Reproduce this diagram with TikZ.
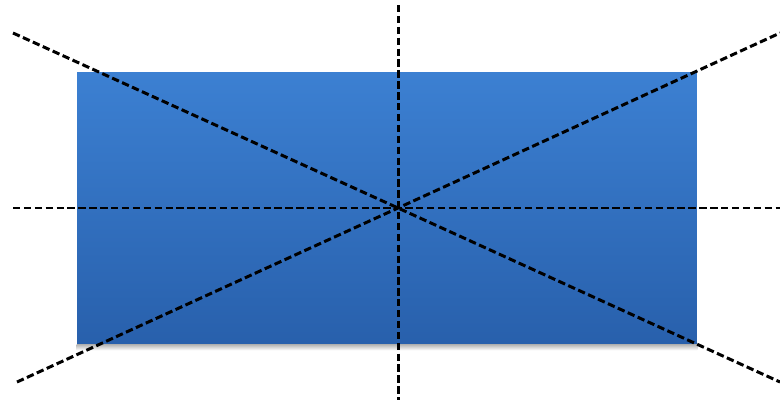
\documentclass[tikz,border=0pt]{standalone}
\usetikzlibrary{positioning, calc}

\definecolor{boxtop}{RGB}{60,128,210}
\definecolor{boxbottom}{RGB}{40,96,172}

\begin{document}
\begin{tikzpicture}[
    x=0.02cm, y=-0.02cm,
    panel/.style={
        rectangle,
        inner sep=0pt,
        minimum width=12.4cm,
        minimum height=5.44cm,
        top color=boxtop,
        bottom color=boxbottom,
        draw=none
    },
    panelshadow/.style={
        top color=black!30,
        bottom color=white,
        draw=none
    },
    axisline/.style={
        dash pattern=on 4.2pt off 2pt,
        line width=1.7pt,
        black
    }
]
    \useasboundingbox (0,0) rectangle (780,406);

    % Blue panel
    \node[panel] (box) at (387,208) {};
    \shade[panelshadow] (box.south west) rectangle ($(box.south east)+(0,6)$);

    % Centre and ends of the lines
    \coordinate (ctr) at (398,208);
    \coordinate (top) at (398,5);
    \coordinate (bottom) at (398,400);
    \coordinate (left) at (13,208);
    \coordinate (right) at (780,208);
    \coordinate (nw) at (13,33);
    \coordinate (se) at (780,382);
    \coordinate (sw) at (17,382);
    \coordinate (ne) at (780,33);

    % Dashed lines through the centre
    \draw[axisline] (top) -- (ctr) -- (bottom);
    \draw[axisline] (left) -- (ctr) -- (right);
    \draw[axisline] (nw) -- (ctr) -- (se);
    \draw[axisline] (sw) -- (ctr) -- (ne);

\end{tikzpicture}
\end{document}
